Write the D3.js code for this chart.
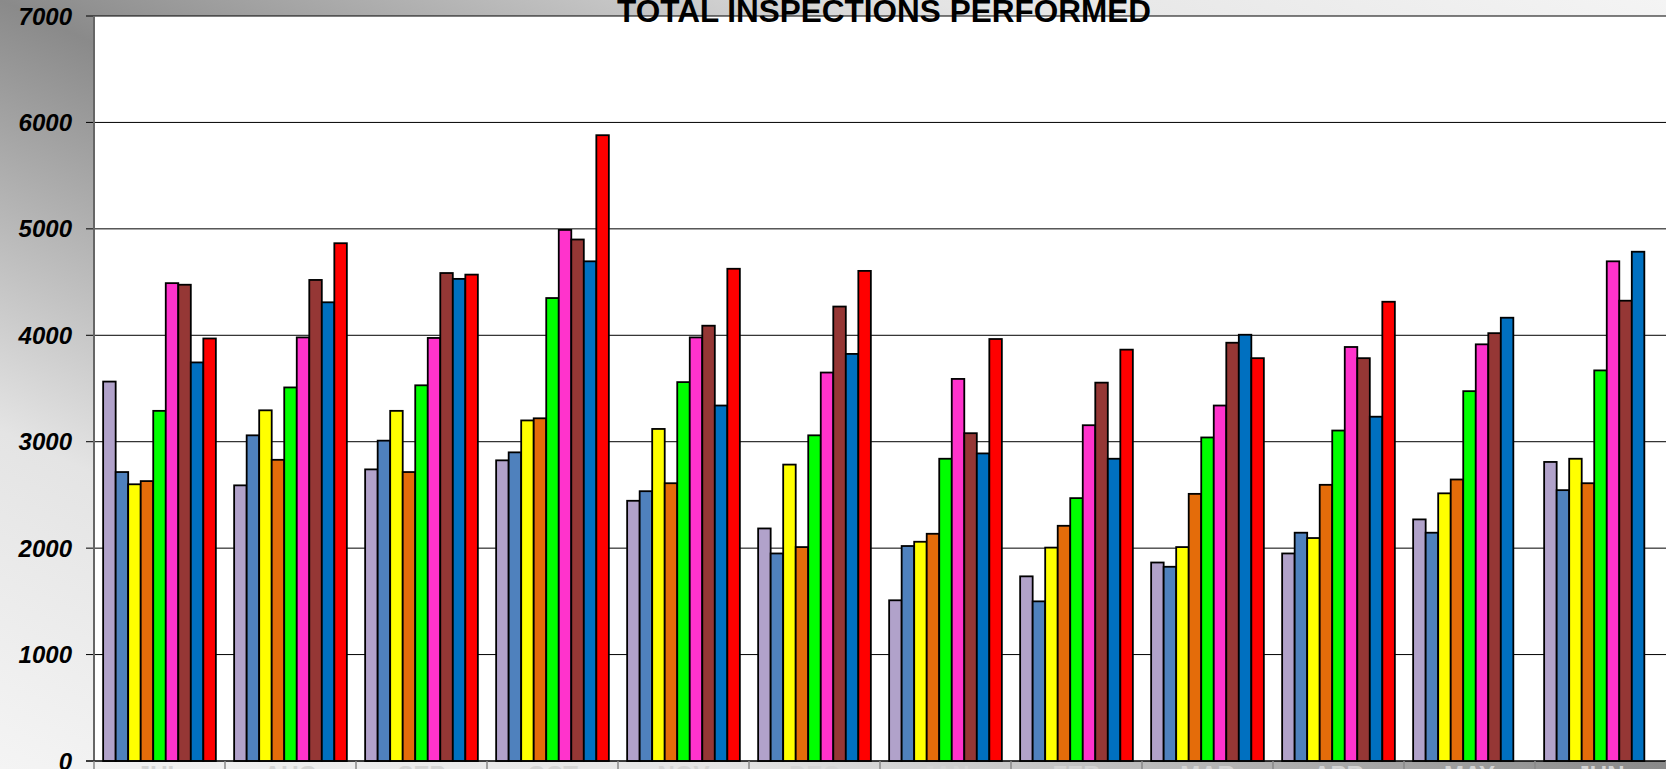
<!DOCTYPE html>
<html>
<head>
<meta charset="utf-8">
<script src="https://cdn.jsdelivr.net/npm/d3@7/dist/d3.min.js"></script>
<style>
  html, body { margin: 0; padding: 0; background: #fff; overflow: hidden; }
  svg { display: block; }
</style>
</head>
<body>
<svg id="chart" width="1666" height="769"></svg>
<script>
// Monthly totals, fiscal year Jul–Jun, one array per year (oldest first)
const categories = ["JUL", "AUG", "SEP", "OCT", "NOV", "DEC", "JAN", "FEB", "MAR", "APR", "MAY", "JUN"];
const series1 = [3565, 2590, 2740, 2825, 2445, 2185, 1510, 1735, 1865, 1950, 2270, 2810];
const series2 = [2715, 3060, 3010, 2900, 2535, 1950, 2020, 1500, 1825, 2145, 2145, 2545];
const series3 = [2600, 3295, 3290, 3200, 3120, 2785, 2060, 2005, 2010, 2095, 2515, 2840];
const series4 = [2630, 2830, 2715, 3220, 2610, 2010, 2135, 2210, 2510, 2595, 2645, 2610];
const series5 = [3290, 3510, 3530, 4350, 3560, 3060, 2840, 2470, 3040, 3105, 3475, 3670];
const series6 = [4490, 3980, 3975, 4990, 3980, 3650, 3590, 3155, 3340, 3890, 3915, 4695];
const series7 = [4475, 4520, 4585, 4900, 4090, 4270, 3080, 3555, 3930, 3785, 4020, 4325];
const series8 = [3745, 4310, 4530, 4695, 3340, 3825, 2890, 2840, 4005, 3235, 4165, 4785];
const series9 = [3970, 4865, 4570, 5880, 4625, 4605, 3965, 3865, 3785, 4315, null, null];
const yTicks = [0, 1000, 2000, 3000, 4000, 5000, 6000, 7000];
const titleText = "TOTAL INSPECTIONS PERFORMED";

const seriesValues = [series1, series2, series3, series4, series5, series6, series7, series8, series9];
const seriesColors = ["#B1A2CA", "#4F81BD", "#FFFF00", "#E46C0A", "#00FF00",
                      "#FF33CC", "#953735", "#0070C0", "#FF0000"];

const W = 1666, H = 769;
const plot = { left: 94, right: 1666, top: 16, bottom: 761 };

const svg = d3.select("#chart");
const defs = svg.append("defs");

// Diagonal grey fill: dark along the top-left/bottom-right diagonal, light at the other corners
const grad = defs.append("linearGradient")
  .attr("id", "bgGrad")
  .attr("x1", 0).attr("y1", 1).attr("x2", 1).attr("y2", 0);
grad.append("stop").attr("offset", "0%").attr("stop-color", "#f4f4f4");
grad.append("stop").attr("offset", "22%").attr("stop-color", "#e4e4e4");
grad.append("stop").attr("offset", "50%").attr("stop-color", "#8a8a8a");
grad.append("stop").attr("offset", "78%").attr("stop-color", "#e4e4e4");
grad.append("stop").attr("offset", "100%").attr("stop-color", "#f4f4f4");

svg.append("rect").attr("x", 0).attr("y", 0).attr("width", W).attr("height", H)
  .attr("fill", "url(#bgGrad)");

// Plot area
svg.append("rect")
  .attr("x", plot.left).attr("y", plot.top)
  .attr("width", plot.right - plot.left).attr("height", plot.bottom - plot.top)
  .attr("fill", "#ffffff");

const y = d3.scaleLinear().domain([0, 7000]).range([plot.bottom, plot.top]);
const x0 = d3.scaleBand().domain(categories).range([plot.left, plot.right]).paddingInner(0).paddingOuter(0);
const x1 = d3.scaleBand().domain(d3.range(seriesValues.length))
  .range([0, x0.bandwidth()]).paddingInner(0).paddingOuter(0.73);

// Horizontal gridlines with ticks to the left of the axis
const grid = svg.append("g");
grid.selectAll("line.grid")
  .data(yTicks)
  .join("line")
  .attr("class", "grid")
  .attr("x1", plot.left - 8).attr("x2", plot.right)
  .attr("y1", d => y(d)).attr("y2", d => y(d))
  .attr("stroke", "#000").attr("stroke-width", 1);

// Y axis labels
svg.append("g").selectAll("text")
  .data(yTicks)
  .join("text")
  .attr("x", 72)
  .attr("y", d => y(d))
  .attr("dy", "0.36em")
  .attr("text-anchor", "end")
  .attr("font-family", "'Liberation Sans', Arial, sans-serif")
  .attr("font-weight", "bold")
  .attr("font-style", "italic")
  .attr("font-size", 24)
  .attr("fill", "#000")
  .text(d => d);

// Bars
const rows = [];
categories.forEach((c, ci) => {
  seriesValues.forEach((arr, si) => {
    if (arr[ci] != null) rows.push({ cat: c, s: si, v: arr[ci] });
  });
});

svg.append("g").selectAll("rect")
  .data(rows)
  .join("rect")
  .attr("x", d => x0(d.cat) + x1(d.s))
  .attr("y", d => y(d.v))
  .attr("width", x1.bandwidth())
  .attr("height", d => y(0) - y(d.v))
  .attr("fill", d => seriesColors[d.s])
  .attr("stroke", "#000")
  .attr("stroke-width", 1.8);

// Left axis line
svg.append("line")
  .attr("x1", plot.left).attr("x2", plot.left)
  .attr("y1", plot.top).attr("y2", plot.bottom)
  .attr("stroke", "#666").attr("stroke-width", 2);

// Category axis: baseline and dividers
svg.append("line")
  .attr("x1", plot.left - 8).attr("x2", plot.right)
  .attr("y1", y(0)).attr("y2", y(0))
  .attr("stroke", "#000").attr("stroke-width", 1.2);

const bounds = categories.map(c => x0(c)).concat([plot.right]);
svg.append("g").selectAll("line")
  .data(bounds)
  .join("line")
  .attr("x1", d => d).attr("x2", d => d)
  .attr("y1", y(0)).attr("y2", H)
  .attr("stroke", "#888").attr("stroke-width", 1.5);

svg.append("g").selectAll("text")
  .data(categories)
  .join("text")
  .attr("x", d => x0(d) + x0.bandwidth() / 2)
  .attr("y", 783)
  .attr("text-anchor", "middle")
  .attr("font-family", "'Liberation Sans', Arial, sans-serif")
  .attr("font-weight", "bold")
  .attr("font-size", 24)
  .attr("fill", "#d4d4d4")
  .text(d => d);

// Title
svg.append("text")
  .attr("x", 884)
  .attr("y", 22)
  .attr("text-anchor", "middle")
  .attr("font-family", "'Liberation Sans', Arial, sans-serif")
  .attr("font-weight", "bold")
  .attr("font-size", 31.5)
  .attr("fill", "#000")
  .text(titleText);
</script>
</body>
</html>
